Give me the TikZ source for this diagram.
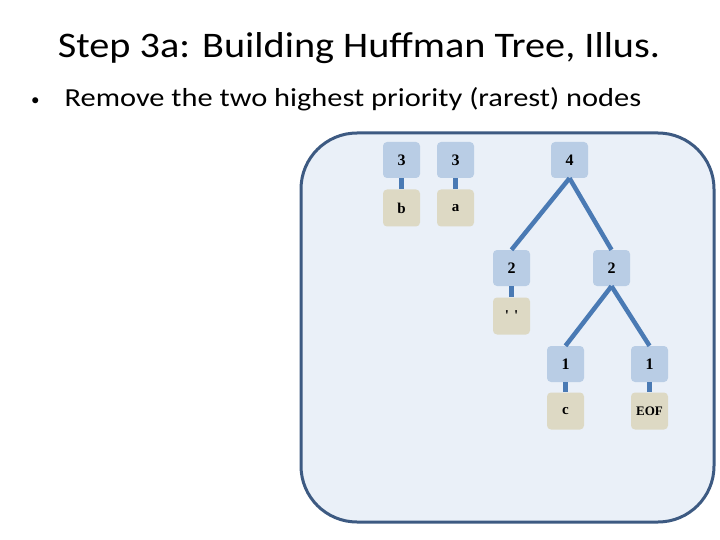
\documentclass[tikz,border=0pt]{standalone}
\usepackage{graphicx}
\usepackage{fontspec}
\setmainfont{Carlito}
\newfontfamily\nodefont{Liberation Serif}
\definecolor{valfill}{HTML}{B9CDE5}
\definecolor{chfill}{HTML}{DDD9C4}
\definecolor{edgecol}{HTML}{4A7AB4}
\definecolor{panelfill}{HTML}{EAF0F8}
\definecolor{panelline}{HTML}{3D5A82}
\begin{document}
\begin{tikzpicture}[x=1pt,y=-1pt,
  valbox/.style={fill=valfill,rounded corners=4pt,minimum width=37pt,minimum height=36pt,inner sep=0pt,font=\nodefont\bfseries\fontsize{16}{18}\selectfont},
  chbox/.style={fill=chfill,rounded corners=4pt,minimum width=37pt,minimum height=37pt,inner sep=0pt,font=\nodefont\bfseries\fontsize{15}{17}\selectfont},
  link/.style={draw=edgecol,line width=4.5pt},
  edge/.style={draw=edgecol,line width=4.5pt}
]
\useasboundingbox (0,0) rectangle (720,540);
\fill[white] (0,0) rectangle (720,540);
\node[font=\fontsize{36}{40}\selectfont,anchor=base,inner sep=0pt] (title) at (359,58) {\scalebox{1.118}[1]{Step 3a: Building Huffman Tree, Illus.}};
\node[font=\fontsize{26}{30}\selectfont,anchor=base west,inner sep=0pt] (bul) at (31,107) {\raisebox{1pt}{\fontsize{17}{20}\selectfont\textbullet}\hspace{25pt}\scalebox{1.17}[1]{Remove the two highest priority (rarest) nodes}};
\draw[fill=panelfill,draw=panelline,line width=3pt,rounded corners=56pt] (301,133) rectangle (714,522);
% nodes
\node[valbox] (v3b) at (401.5,160) {3};
\node[chbox] (cb) at (401.5,208) {b};
\node[valbox] (v3a) at (455.5,160) {3};
\node[chbox] (ca) at (455.5,208) {a};
\node[valbox] (v4) at (569.5,160) {4};
\node[valbox] (v2l) at (511.5,268) {2};
\node[chbox] (csp) at (511.5,316) {'\,\,'};
\node[valbox] (v2r) at (611.5,268) {2};
\node[valbox] (v1l) at (565.5,364) {1};
\node[chbox] (cc) at (565.5,411) {c};
\node[valbox] (v1r) at (649.5,364) {1};
\node[chbox,font=\nodefont\bfseries\fontsize{13}{15}\selectfont] (ceof) at (649.5,411) {EOF};
% links
\draw[link] (v3b.south) -- (cb.north);
\draw[link] (v3a.south) -- (ca.north);
\draw[link] (v2l.south) -- (csp.north);
\draw[link] (v1l.south) -- (cc.north);
\draw[link] (v1r.south) -- (ceof.north);
\draw[edge] (v4.south) -- (v2l.north);
\draw[edge] (v4.south) -- (v2r.north);
\draw[edge] (v2r.south) -- (v1l.north);
\draw[edge] (v2r.south) -- (v1r.north);
\end{tikzpicture}
\end{document}
